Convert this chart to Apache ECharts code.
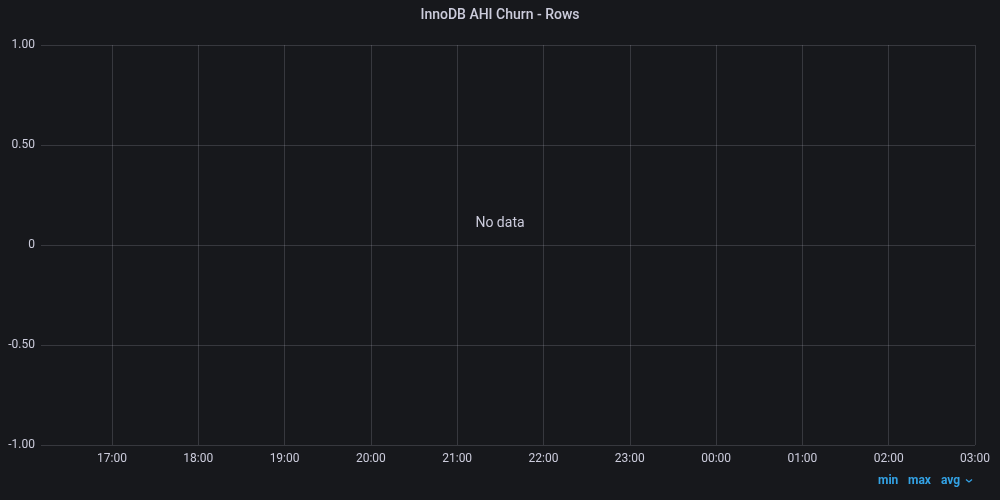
<!DOCTYPE html>
<html>
<head>
<meta charset="utf-8">
<script src="https://cdn.jsdelivr.net/npm/echarts@6/dist/echarts.min.js"></script>
<style>
html,body{margin:0;padding:0;background:#17181c;}
#c{width:1000px;height:500px;}
</style>
</head>
<body>
<div id="c"></div>
<script>
const title = "InnoDB AHI Churn - Rows";
const noDataText = "No data";
const legendStats = ["min", "max", "avg"];
const seriesValues = []; // no data
const timeStart = Date.UTC(2024, 0, 1, 16, 10, 40);
const timeEnd = Date.UTC(2024, 0, 2, 3, 0, 0);
const hourTicks = [17, 18, 19, 20, 21, 22, 23, 24, 25, 26, 27];
const yMin = -1, yMax = 1, yStep = 0.5;

const chart = echarts.init(document.getElementById('c'), null, {renderer: 'canvas'});
const txt = '#ccccdc';
const grid = 'rgba(204,204,220,0.18)';
const blue = '#33a2e5';
const legendX = [878, 908, 941];
const tickTimes = hourTicks.map(h => Date.UTC(2024, 0, 1, h, 0, 0));
chart.setOption({
  useUTC: true,
  backgroundColor: '#17181c',
  animation: false,
  title: {
    text: title, left: 'center', top: 3,
    textStyle: {color: txt, fontSize: 14, fontWeight: 500, fontFamily: 'Roboto'}
  },
  grid: {left: 41, right: 25, top: 45, bottom: 55, containLabel: false, show: false},
  xAxis: {
    type: 'time', min: timeStart, max: timeEnd,
    minInterval: 3600000, maxInterval: 3600000,
    axisLine: {show: false, lineStyle: {color: '#00ff00'}}, axisTick: {show: false},
    splitLine: {show: false},
    axisLabel: {
      color: txt, fontSize: 12, fontFamily: 'Roboto', margin: 8,
      showMinLabel: false, showMaxLabel: true,
      formatter: function (v) {
        const d = new Date(v);
        const h = String(d.getUTCHours()).padStart(2, '0');
        const m = String(d.getUTCMinutes()).padStart(2, '0');
        return h + ':' + m;
      }
    }
  },
  yAxis: {
    type: 'value', min: yMin, max: yMax, interval: yStep,
    axisLine: {show: false, lineStyle: {color: '#ff0000'}}, axisTick: {show: false},
    splitLine: {show: true, lineStyle: {color: grid, width: 1}},
    axisLabel: {
      color: txt, fontSize: 12, fontFamily: 'Roboto', margin: 6,
      formatter: function (v) { return v === 0 ? '0' : v.toFixed(2); }
    }
  },
  series: [{
    type: 'line', data: seriesValues, showSymbol: false,
    markLine: {
      silent: true, symbol: 'none', animation: false,
      label: {show: false},
      lineStyle: {color: grid, width: 1, type: 'solid'},
      data: tickTimes.map(t => ({xAxis: t}))
    }
  }],
  graphic: [
    {type: 'text', left: 'center', top: 216,
      style: {text: noDataText, fill: txt, fontSize: 14, fontFamily: 'Roboto'}},
    ...legendStats.map((s, i) => ({
      type: 'text', x: legendX[i], y: 481,
      style: {text: s, fill: blue, fontSize: 12, fontWeight: 'bold', fontFamily: 'Roboto', verticalAlign: 'middle'}
    })),
    {type: 'polyline', shape: {points: [[966, 479.5], [969, 482], [972, 479.5]]},
      style: {stroke: blue, lineWidth: 1.3, fill: null}}
  ]
});
</script>
</body>
</html>
